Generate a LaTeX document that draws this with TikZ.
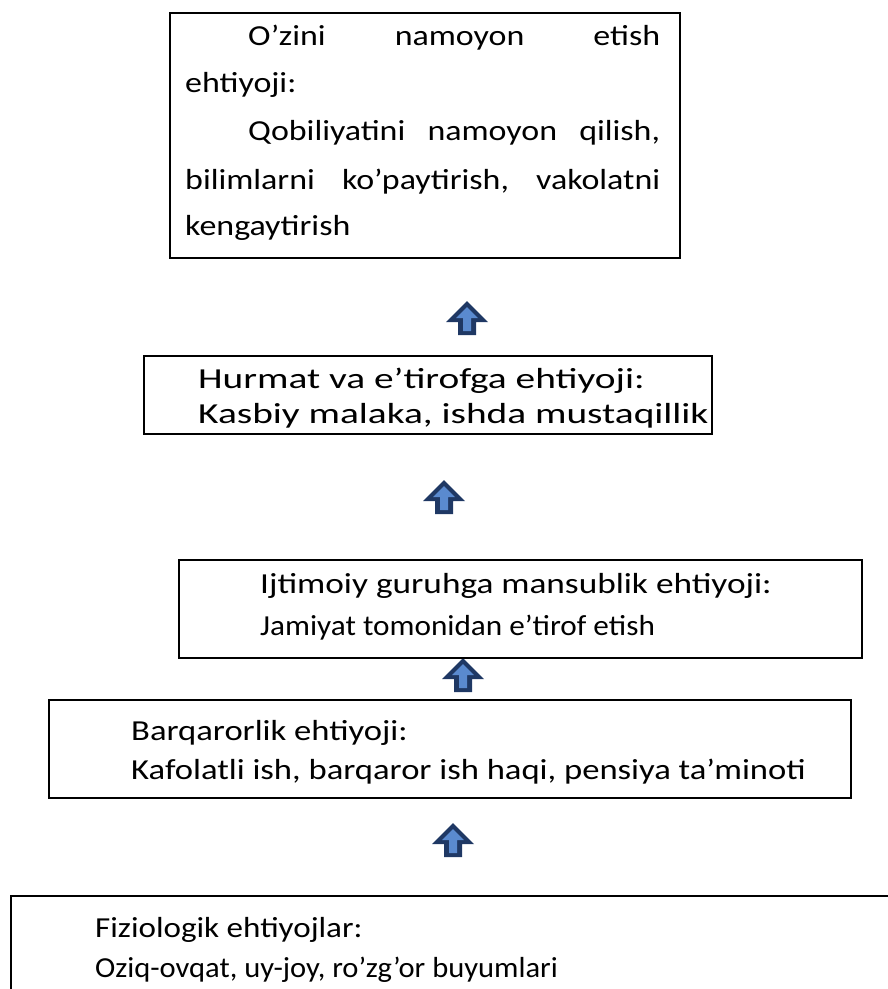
\documentclass[tikz,border=0pt]{standalone}
\usepackage{graphicx}
\usepackage{fontspec}
\setmainfont{Carlito}[FakeStretch=1.17]
\definecolor{arrline}{HTML}{1F3864}
\definecolor{arrfill}{HTML}{5A8ACF}
\newcommand\hsc[2]{\scalebox{#1}[1]{#2}}
\tikzset{
  box/.style={draw=black, line width=2pt, inner sep=0pt, anchor=north west},
  txtline/.style={anchor=base west, inner sep=0pt, font=\fontsize{29}{35}\selectfont},
  uparr/.pic={
    \fill[arrline] (0,0) -- (21,21) -- (9,21) -- (9,34) -- (-9,34) -- (-9,21) -- (-21,21) -- cycle;
    \fill[arrfill] (0,6) -- (11,17) -- (4,17) -- (4,30) -- (-4,30) -- (-4,17) -- (-11,17) -- cycle;}
}
\begin{document}
\begin{tikzpicture}[x=1pt,y=-1pt]
\useasboundingbox (0,0) rectangle (888,989);
\clip (0,0) rectangle (888,989);
% arrows
\pic at (467,301) {uparr};
\pic at (444,480) {uparr};
\pic at (463,658) {uparr};
\pic at (453,823) {uparr};
% boxes
\node[box, minimum width=510pt, minimum height=245pt] (b1) at (169,12) {};
\node[box, minimum width=568pt, minimum height=78pt] (b2) at (143,355) {};
\node[box, minimum width=683pt, minimum height=98pt] (b3) at (178,559) {};
\node[box, minimum width=802pt, minimum height=98pt] (b4) at (48,699) {};
\node[box, minimum width=900pt, minimum height=200pt] (b5) at (10,895) {};
% box 1 text
\node[txtline] (t1a) at (248,45) {\hbox to 412pt{O’zini\hfill namoyon\hfill etish}};
\node[txtline] (t1b) at (185,92) {ehtiyoji:};
\node[txtline] (t1c) at (248,140) {\hbox to 412pt{Qobiliyatini\hfill namoyon\hfill qilish,}};
\node[txtline] (t1d) at (185,189) {\hbox to 475pt{bilimlarni\hfill ko’paytirish,\hfill vakolatni}};
\node[txtline] (t1e) at (185,235) {kengaytirish};
% box 2 text
\node[txtline] (t2a) at (198,388) {\hsc{1.16}{Hurmat va e’tirofga ehtiyoji:}};
\node[txtline] (t2b) at (198,423) {\hsc{1.16}{Kasbiy malaka, ishda mustaqillik}};
% box 3 text
\node[txtline] (t3a) at (260,593) {\hsc{1.04}{Ijtimoiy guruhga mansublik ehtiyoji:}};
\node[txtline] (t3b) at (260,635) {\hsc{0.92}{Jamiyat tomonidan e’tirof etish}};
% box 4 text
\node[txtline] (t4a) at (131,740) {\hsc{1.02}{Barqarorlik ehtiyoji:}};
\node[txtline] (t4b) at (131,779) {\hsc{1.02}{Kafolatli ish, barqaror ish haqi, pensiya ta’minoti}};
% box 5 text
\node[txtline] (t5a) at (95,937) {\hsc{0.975}{Fiziologik ehtiyojlar:}};
\node[txtline] (t5b) at (95,977) {\hsc{0.90}{Oziq-ovqat, uy-joy, ro’zg’or buyumlari}};
\end{tikzpicture}
\end{document}
